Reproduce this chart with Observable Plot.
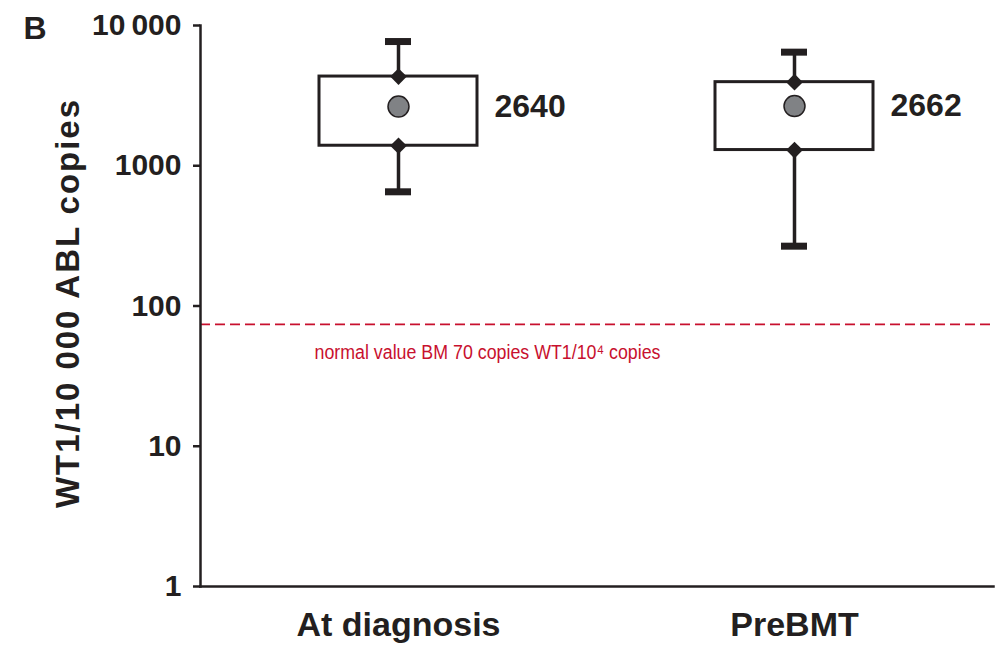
<!DOCTYPE html>
<html>
<head>
<meta charset="utf-8">
<script src="https://cdn.jsdelivr.net/npm/d3@7"></script>
<script src="https://cdn.jsdelivr.net/npm/@observablehq/plot@0.6"></script>
<style>
  html, body { margin: 0; padding: 0; background: #fff; }
  #chart { width: 999px; height: 646px; }
</style>
</head>
<body>
<div id="chart"></div>
<script>
const categories = ["At diagnosis", "PreBMT"];
const whiskerLow = [652, 267];
const quartile1 = [1389, 1294];
const quartile3 = [4325, 3945];
const whiskerHigh = [7685, 6456];
const means = [2640, 2662];
const meanLabels = ["2640", "2662"];
const yTicks = [1, 10, 100, 1000, 10000];
const yTickLabels = ["1", "10", "100", "1000", "10\u2009000"];
const thresholdValue = 74;
const thresholdLabel = "normal value BM 70 copies WT1/10\u2074 copies";
const yLabel = "WT1/10 000 ABL copies";
const panelLabel = "B";

const rows = categories.map((c, i) => ({
  cat: c, lo: whiskerLow[i], q1: quartile1[i], q3: quartile3[i],
  hi: whiskerHigh[i], mean: means[i], label: meanLabels[i]
}));

const ink = "#231f20";
const red = "#c8102e";
const bold = {fontWeight: "bold"};

const chart = Plot.plot({
  width: 999,
  height: 646,
  marginLeft: 200,
  marginRight: 6,
  marginTop: 25,
  marginBottom: 60,
  style: {fontFamily: "'Liberation Sans', Arial, Helvetica, sans-serif", color: ink, background: "#fff"},
  x: {type: "band", domain: categories, paddingInner: 0.6, paddingOuter: 0.3, axis: null},
  y: {type: "log", domain: [1, 10000], axis: null},
  marks: [
    Plot.ruleY([thresholdValue], {stroke: red, strokeWidth: 1.8, strokeDasharray: "10,5"}),
    Plot.text([thresholdLabel], {frameAnchor: "left", y: () => thresholdValue, text: d => d, dx: 114, dy: 28,
      textAnchor: "start", fill: red, fontSize: 20}),
    Plot.ruleX(rows, {x: "cat", y1: "lo", y2: "hi", stroke: ink, strokeWidth: 3.5}),
    Plot.tickY(rows, {x: "cat", y: "hi", stroke: ink, strokeWidth: 7, insetLeft: 66, insetRight: 66}),
    Plot.tickY(rows, {x: "cat", y: "lo", stroke: ink, strokeWidth: 7, insetLeft: 66, insetRight: 66}),
    Plot.barY(rows, {x: "cat", y1: "q1", y2: "q3", fill: "white", stroke: ink, strokeWidth: 3}),
    Plot.dot(rows, {x: "cat", y: "q3", symbol: "diamond2", r: 7.5, fill: ink, stroke: "none"}),
    Plot.dot(rows, {x: "cat", y: "q1", symbol: "diamond2", r: 7.5, fill: ink, stroke: "none"}),
    Plot.dot(rows, {x: "cat", y: "mean", r: 10.5, fill: "#808285", stroke: ink, strokeWidth: 1.5}),
    Plot.text(rows, {x: "cat", y: "mean", text: "label", textAnchor: "start", dx: 96, fontSize: 32, ...bold, fill: ink}),
    Plot.axisY({ticks: yTicks, tickFormat: d => yTickLabels[yTicks.indexOf(d)], tickSize: 7, tickPadding: 12,
      fontSize: 30, ...bold, label: null, stroke: ink, strokeWidth: 2.5}),
    Plot.axisX({tickSize: 0, tickPadding: 25, fontSize: 34, ...bold, label: null}),
    Plot.frame({anchor: "left", stroke: ink, strokeWidth: 2.5}),
    Plot.frame({anchor: "bottom", stroke: ink, strokeWidth: 2.5}),
    Plot.text([yLabel], {frameAnchor: "left", text: d => d, rotate: -90, textAnchor: "middle", lineAnchor: "middle",
      dx: -132, dy: -2, fontSize: 33, ...bold, fill: ink}),
    Plot.text([panelLabel], {frameAnchor: "top-left", text: d => d, textAnchor: "start", lineAnchor: "top",
      dx: -177, dy: -9, fontSize: 32, ...bold, fill: ink})
  ]
});
d3.select(chart).selectAll("text")
  .filter(function() { return this.textContent === thresholdLabel; })
  .attr("textLength", 346).attr("lengthAdjust", "spacingAndGlyphs");
d3.select(chart).selectAll("text")
  .filter(function() { return this.textContent === yLabel; })
  .attr("textLength", 408).attr("lengthAdjust", "spacing");
document.getElementById("chart").appendChild(chart);
</script>
</body>
</html>
